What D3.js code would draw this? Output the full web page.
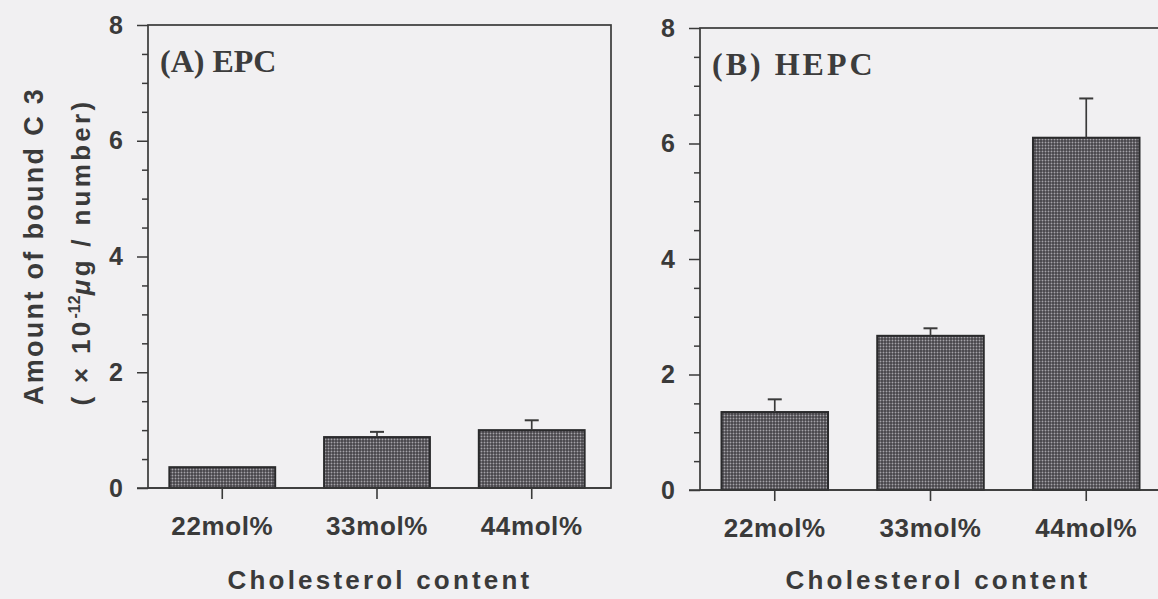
<!DOCTYPE html>
<html>
<head>
<meta charset="utf-8">
<script src="https://cdn.jsdelivr.net/npm/d3@7"></script>
<style>
  body { margin: 0; background: #f1f0f2; }
  svg { display: block; }
</style>
</head>
<body>
<svg id="chart" width="1158" height="599"></svg>
<script>
const categories = ['22mol%', '33mol%', '44mol%'];
const epcValues = [0.36, 0.88, 1.0];
const epcErrors = [0, 0.09, 0.17];
const hepcValues = [1.35, 2.67, 6.1];
const hepcErrors = [0.22, 0.13, 0.68];
const majorTicks = [0, 2, 4, 6, 8];
const minorTicks = d3.range(0, 8.01, 0.5).filter(d => d % 2 !== 0);

const ink = '#3a3a3a';
const sans = '"Liberation Sans", Arial, sans-serif';
const svg = d3.select('#chart');

// dotted screen fill for the bars
const pat = svg.append('defs').append('pattern')
    .attr('id', 'dots')
    .attr('width', 3).attr('height', 3)
    .attr('patternUnits', 'userSpaceOnUse');
pat.append('rect').attr('width', 3).attr('height', 3).attr('fill', '#454348');
pat.append('circle').attr('cx', 1.5).attr('cy', 1.5).attr('r', 0.95).attr('fill', '#a4a2a8');

function drawPanel(opts) {
    const y = d3.scaleLinear().domain([0, 8]).range([opts.bottom, opts.top]);
    const x = d3.scaleBand().domain(categories)
        .range([opts.left, opts.bandRight])
        .paddingInner(0.316).paddingOuter(0.138);

    const g = svg.append('g');

    // frame
    g.append('rect')
        .attr('x', opts.left).attr('y', opts.top)
        .attr('width', opts.frameRight - opts.left)
        .attr('height', opts.bottom - opts.top)
        .attr('fill', 'none').attr('stroke', ink).attr('stroke-width', 1.7);

    // bars
    g.selectAll('rect.bar')
        .data(opts.values)
        .enter().append('rect')
        .attr('class', 'bar')
        .attr('x', (d, i) => x(categories[i]))
        .attr('y', d => y(d))
        .attr('width', x.bandwidth())
        .attr('height', d => y(0) - y(d))
        .attr('fill', 'url(#dots)')
        .attr('stroke', '#2a2a2c').attr('stroke-width', 2);

    // error bars (upper only)
    const errs = opts.values.map((v, i) => ({ v: v, e: opts.errors[i], c: categories[i] }))
        .filter(d => d.e > 0);
    g.selectAll('line.err')
        .data(errs)
        .enter().append('line')
        .attr('x1', d => x(d.c) + x.bandwidth() / 2)
        .attr('x2', d => x(d.c) + x.bandwidth() / 2)
        .attr('y1', d => y(d.v))
        .attr('y2', d => y(d.v + d.e))
        .attr('stroke', ink).attr('stroke-width', 1.7);
    g.selectAll('line.cap')
        .data(errs)
        .enter().append('line')
        .attr('x1', d => x(d.c) + x.bandwidth() / 2 - 7)
        .attr('x2', d => x(d.c) + x.bandwidth() / 2 + 7)
        .attr('y1', d => y(d.v + d.e))
        .attr('y2', d => y(d.v + d.e))
        .attr('stroke', ink).attr('stroke-width', 2);

    // y axis, major and minor ticks
    const yMajor = g.append('g')
        .attr('transform', `translate(${opts.left},0)`)
        .call(d3.axisLeft(y).tickValues(majorTicks).tickSize(11).tickPadding(14).tickFormat(d3.format('d')));
    const yMinor = g.append('g')
        .attr('transform', `translate(${opts.left},0)`)
        .call(d3.axisLeft(y).tickValues(minorTicks).tickSize(6).tickFormat(''));
    [yMajor, yMinor].forEach(a => {
        a.select('.domain').remove();
        a.selectAll('line').attr('stroke', ink).attr('stroke-width', 1.5);
    });
    yMajor.selectAll('text')
        .attr('fill', ink)
        .style('font', `bold 25px ${sans}`);

    // x axis ticks and labels
    const xAxis = g.append('g')
        .attr('transform', `translate(0,${opts.bottom})`)
        .call(d3.axisBottom(x).tickSize(11).tickPadding(18));
    xAxis.select('.domain').remove();
    xAxis.selectAll('line').attr('stroke', ink).attr('stroke-width', 1.6);
    xAxis.selectAll('text')
        .attr('fill', ink)
        .style('font', `bold 26px ${sans}`)
        .style('letter-spacing', '0.6px');

    // baseline stretches out to the 0 tick
    g.append('line')
        .attr('x1', opts.left - 11).attr('x2', opts.frameRight)
        .attr('y1', y(0)).attr('y2', y(0))
        .attr('stroke', ink).attr('stroke-width', 1.7);

    // panel label
    g.append('text')
        .attr('x', opts.left + 12).attr('y', opts.top + 47)
        .attr('fill', '#3c3c3c')
        .style('font', 'bold 32px "Liberation Serif", "Times New Roman", serif')
        .style('letter-spacing', opts.titleSpacing)
        .text(opts.title);

    // x title
    g.append('text')
        .attr('x', opts.titleX)
        .attr('y', 589)
        .attr('text-anchor', 'middle')
        .attr('fill', ink)
        .style('font', `bold 26px ${sans}`)
        .style('letter-spacing', '3.2px')
        .text('Cholesterol content');
}

drawPanel({ left: 148, bandRight: 606, frameRight: 611, top: 25, bottom: 488,
    values: epcValues, errors: epcErrors, title: '(A) EPC', titleSpacing: '0px', titleX: 380 });
drawPanel({ left: 700, bandRight: 1161, frameRight: 1175, top: 28, bottom: 490,
    values: hepcValues, errors: hepcErrors, title: '(B) HEPC', titleSpacing: '3px', titleX: 938 });

// y axis title, two lines
svg.append('text')
    .attr('transform', 'translate(43,246) rotate(-90)')
    .attr('text-anchor', 'middle')
    .attr('fill', ink)
    .style('font', `bold 27px ${sans}`)
    .style('letter-spacing', '2.3px')
    .text('Amount of bound C 3');

const yTitle2 = svg.append('text')
    .attr('transform', 'translate(90,252) rotate(-90)')
    .attr('text-anchor', 'middle')
    .attr('fill', ink)
    .style('font', `bold 26px ${sans}`)
    .style('letter-spacing', '3.3px');
yTitle2.append('tspan').text('( × 10');
yTitle2.append('tspan').attr('dy', -10).style('font-size', '16px').style('letter-spacing', '0px').text('-12');
yTitle2.append('tspan').attr('dy', 10).style('font-style', 'italic').text('μ');
yTitle2.append('tspan').text('g / number)');
</script>
</body>
</html>
